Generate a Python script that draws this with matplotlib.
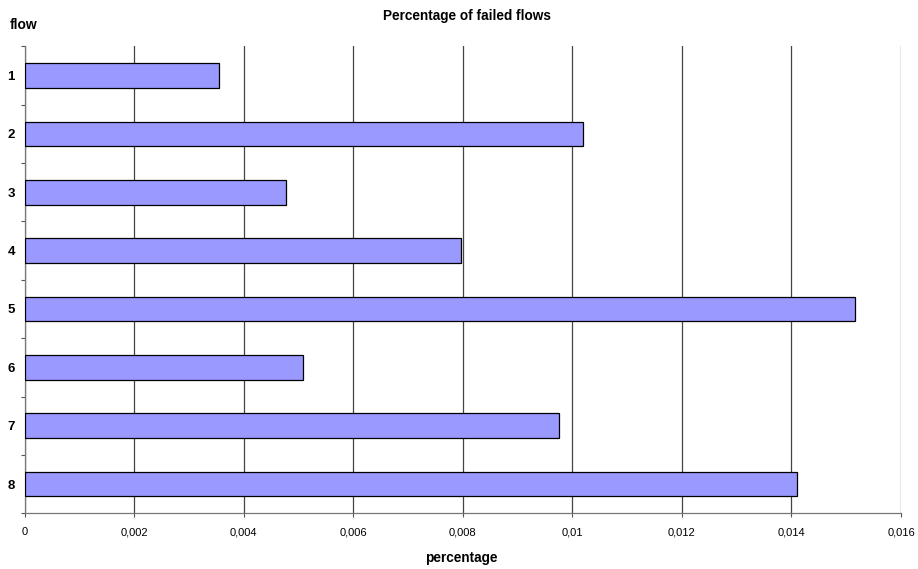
import matplotlib.pyplot as plt
import numpy as np

plt.rcParams['font.family'] = ['Liberation Sans', 'DejaVu Sans']

flows = ['1', '2', '3', '4', '5', '6', '7', '8']
failed = [0.00355, 0.0102, 0.00477, 0.00796, 0.01516, 0.00509, 0.00976, 0.0141]
xticks = [0, 0.002, 0.004, 0.006, 0.008, 0.01, 0.012, 0.014, 0.016]
xlabels = ['0', '0,002', '0,004', '0,006', '0,008', '0,01', '0,012', '0,014', '0,016']

fig = plt.figure(figsize=(9.18, 5.69), dpi=100)
ax = fig.add_axes([0.0269, 0.0979, 0.9546, 0.8207])

y = np.arange(1, len(flows) + 1)
ax.barh(y, failed, height=0.42, color='#9999FF', edgecolor='black', linewidth=0.9, zorder=3)

ax.set_xlim(0, 0.016)
ax.set_ylim(8.5, 0.5)
ax.set_xticks(xticks)
ax.set_xticklabels(xlabels, fontsize=8)
ax.set_yticks(y)
ax.set_yticklabels(flows, fontsize=9.5, fontweight='bold')
ax.set_yticks(np.arange(0.5, 9.0, 1.0), minor=True)
ax.tick_params(axis='y', which='major', length=0, pad=7)
ax.tick_params(axis='y', which='minor', length=3, width=0.8, color='#555555', direction='out')
ax.tick_params(axis='x', length=3, width=0.8, color='#555555', pad=7)

ax.grid(axis='x', color='#444444', linewidth=0.9, zorder=0)
for s in ['top', 'right']:
    ax.spines[s].set_visible(False)
for s in ['left', 'bottom']:
    ax.spines[s].set_color('#777777')
    ax.spines[s].set_linewidth(0.9)

fig.text(0.509, 0.972, 'Percentage of failed flows', ha='center', va='center',
         fontsize=9.8, fontweight='bold')
fig.text(0.011, 0.956, 'flow', ha='left', va='center', fontsize=10, fontweight='bold')
fig.text(0.503, 0.019, 'percentage', ha='center', va='center', fontsize=9.8, fontweight='bold')

fig.savefig('out.png', dpi=100)
